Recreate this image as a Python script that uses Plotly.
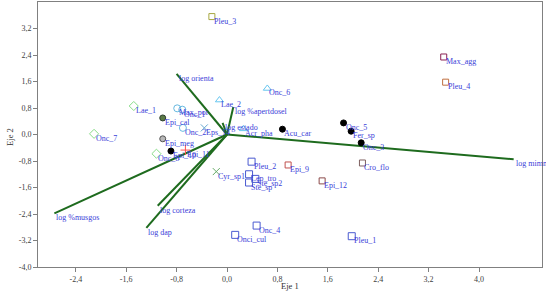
import plotly.graph_objects as go

# ---------------- data ----------------
# species scores (Eje 1, Eje 2) grouped by marker style
black_names = ["Acu_car", "Onc_5", "Fer_sp", "Onc_3", "Epi_10"]
black_x = [0.88, 1.85, 1.97, 2.13, -0.89]
black_y = [0.16, 0.35, 0.10, -0.25, -0.50]

diamond_names = ["Lae_1", "Onc_7", "Onc_8"]
diamond_x = [-1.48, -2.11, -1.12]
diamond_y = [0.86, 0.02, -0.58]

triangle_names = ["Lae_2", "Onc_6", "Acr_pha"]
triangle_x = [-0.12, 0.64, 0.26]
triangle_y = [1.04, 1.39, 0.17]

lcircle_names = ["Max_por", "Onc_1", "Onc_2"]
lcircle_x = [-0.79, -0.71, -0.70]
lcircle_y = [0.79, 0.75, 0.20]

dcircle_names = ["Epi_cal"]
dcircle_x = [-1.02]
dcircle_y = [0.50]

gcircle_names = ["Epi_meg"]
gcircle_x = [-1.02]
gcircle_y = [-0.13]

bsquare_names = ["Pleu_2", "Lep_tro", "Ste_sp2", "Ste_sp", "Onc_4", "Onci_cul", "Pleu_1"]
bsquare_x = [0.39, 0.35, 0.45, 0.35, 0.47, 0.13, 1.98]
bsquare_y = [-0.82, -1.20, -1.34, -1.45, -2.75, -3.03, -3.07]

rsquare_names = ["Epi_9", "Epi_12", "Cro_flo", "Max_agg", "Pleu_4"]
rsquare_x = [0.97, 1.51, 2.15, 3.44, 3.47]
rsquare_y = [-0.92, -1.40, -0.86, 2.34, 1.58]
rsquare_colors = ["#c0504d", "#8b4a4a", "#7f6060", "#8b2252", "#c07040"]

osquare_names = ["Pleu_3"]
osquare_x = [-0.24]
osquare_y = [3.56]

gx_names = ["Cyr_sp1"]
gx_x = [-0.17]
gx_y = [-1.12]

bx_names = ["Eps_14"]
bx_x = [-0.36]
bx_y = [0.20]

plus_names = ["Epi_11"]
plus_x = [-0.66]
plus_y = [-0.47]

# environmental vectors
vec_names = ["log orienta", "log %apertdosel", "log estado", "log mimm",
             "log %musgos", "log corteza", "log dap"]
vec_x = [-0.80, 0.10, -0.07, 4.55, -2.74, -1.10, -1.28]
vec_y = [1.83, 0.83, 0.35, -0.75, -2.38, -2.15, -2.82]

x_ticks = [-2.4, -1.6, -0.8, 0.0, 0.8, 1.6, 2.4, 3.2, 4.0]
y_ticks = [-4.0, -3.2, -2.4, -1.6, -0.8, 0.0, 0.8, 1.6, 2.4, 3.2]

# ---------------- figure ----------------
LABEL_COLOR = "#3a40d8"
FONT = "Liberation Serif, Times New Roman, serif"

fig = go.Figure()

# vectors
for name, vx, vy in zip(vec_names, vec_x, vec_y):
    fig.add_trace(go.Scatter(x=[0, vx], y=[0, vy], mode="lines",
                             line=dict(color="#1e6b1e", width=2),
                             hoverinfo="skip", showlegend=False))

def add_group(xs, ys, symbol, color, fill, size=6, lw=1):
    fig.add_trace(go.Scatter(
        x=xs, y=ys, mode="markers",
        marker=dict(symbol=symbol, size=size, color=fill,
                    line=dict(color=color, width=lw)),
        showlegend=False))

add_group(black_x, black_y, "circle", "black", "black", size=6)
add_group(diamond_x, diamond_y, "diamond-open", "#88dd88", "#88dd88", size=7)
add_group(triangle_x, triangle_y, "triangle-up-open", "#66c6f0", "#66c6f0", size=7)
add_group(lcircle_x, lcircle_y, "circle-open", "#66b8e0", "#66b8e0", size=7)
add_group(dcircle_x, dcircle_y, "circle", "#2f3f2f", "#5a7a46", size=6)
add_group(gcircle_x, gcircle_y, "circle", "#555555", "#b8b8b8", size=6)
add_group(bsquare_x, bsquare_y, "square-open", "#4a5ad0", "#4a5ad0", size=7)
add_group(rsquare_x, rsquare_y, "square-open", rsquare_colors, rsquare_colors, size=6)
add_group(osquare_x, osquare_y, "square-open", "#a8a840", "#a8a840", size=6)
add_group(gx_x, gx_y, "x-thin-open", "#66aa66", "#66aa66", size=7)
add_group(bx_x, bx_y, "x-thin-open", "#66a8d0", "#66a8d0", size=7)
add_group(plus_x, plus_y, "cross-thin-open", "#ff5050", "#ff5050", size=7)

# labels
all_names = (black_names + diamond_names + triangle_names + lcircle_names +
             dcircle_names + gcircle_names + bsquare_names + rsquare_names +
             osquare_names + gx_names + bx_names + plus_names + vec_names)
all_x = (black_x + diamond_x + triangle_x + lcircle_x + dcircle_x + gcircle_x +
         bsquare_x + rsquare_x + osquare_x + gx_x + bx_x + plus_x + vec_x)
all_y = (black_y + diamond_y + triangle_y + lcircle_y + dcircle_y + gcircle_y +
         bsquare_y + rsquare_y + osquare_y + gx_y + bx_y + plus_y + vec_y)

for name, ax, ay in zip(all_names, all_x, all_y):
    fig.add_annotation(x=ax, y=ay, text=name, showarrow=False,
                       xanchor="left", yanchor="top", xshift=1, yshift=1,
                       borderpad=0,
                       font=dict(family=FONT, size=8, color=LABEL_COLOR))

# axis titles
fig.add_annotation(xref="paper", yref="paper", x=0.5, y=-0.072,
                   text="Eje 1", showarrow=False, xanchor="center", yanchor="middle",
                   font=dict(family=FONT, size=8.5, color="#303030"))
fig.add_annotation(xref="paper", yref="paper", x=-0.056, y=0.49,
                   text="Eje 2", showarrow=False, xanchor="center", yanchor="middle",
                   textangle=-90,
                   font=dict(family=FONT, size=8.5, color="#303030"))

axis_common = dict(showgrid=False, zeroline=False, showline=True, mirror=True,
                   linecolor="#808080", linewidth=1, ticks="outside", ticklen=4,
                   tickcolor="#808080", automargin=False,
                   tickfont=dict(family=FONT, size=8, color="#404040"))

fig.update_xaxes(range=[-3.0, 5.0], tickvals=x_ticks,
                 ticktext=[f"{v:.1f}".replace(".", ",") for v in x_ticks],
                 **axis_common)
fig.update_yaxes(range=[-4.0, 4.0], tickvals=y_ticks,
                 ticktext=[f"{v:.1f}".replace(".", ",") for v in y_ticks],
                 **axis_common)

fig.update_layout(width=546, height=293,
                  margin=dict(l=38, r=4, t=2, b=26),
                  paper_bgcolor="white", plot_bgcolor="white",
                  showlegend=False)

fig.write_html("out.html",
               config={"displayModeBar": False},
               post_script="document.body.style.margin='0';"
                           "document.body.style.overflow='hidden';")
